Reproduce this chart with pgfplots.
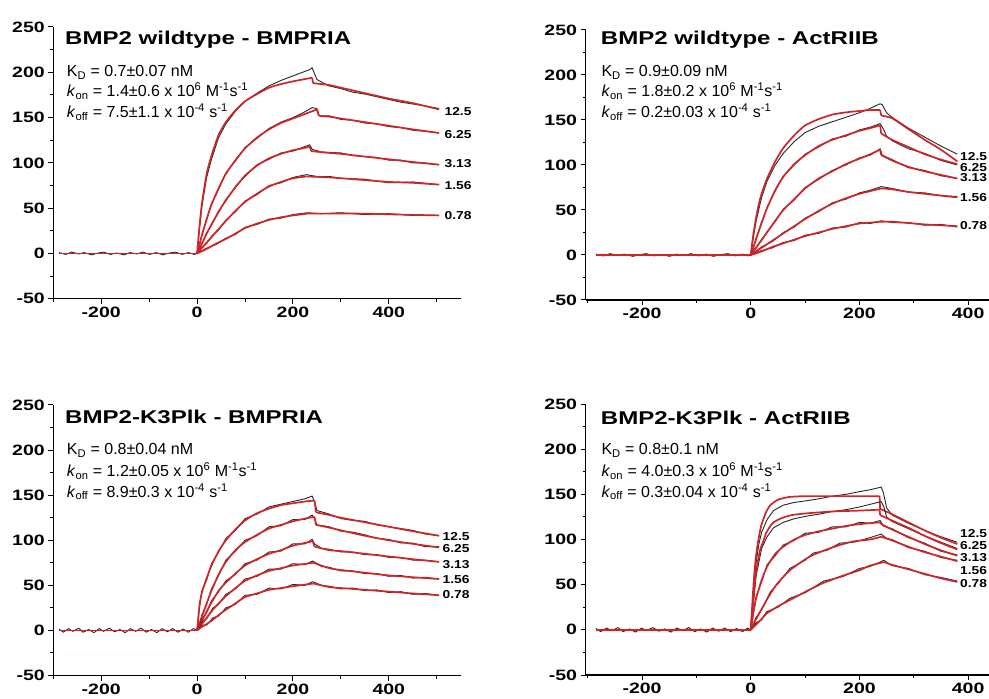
\documentclass[border=0pt]{standalone}
\usepackage{fontspec}
\setmainfont{Liberation Sans}
\newfontfamily\stretchfont{Liberation Sans}[FakeStretch=1.3]
\newfontfamily\concfamily{Liberation Sans}[FakeStretch=1.2]
\usepackage{pgfplots}
\pgfplotsset{compat=1.18}
\definecolor{fitred}{RGB}{208,36,40}
\newcommand\tickfont{\stretchfont\bfseries\fontsize{15bp}{17bp}\selectfont}
\newcommand\titlefont{\stretchfont\bfseries\fontsize{18.5bp}{21bp}\selectfont}
\newcommand\annfont{\fontsize{16bp}{18bp}\selectfont}
\newcommand\concfont{\concfamily\bfseries\fontsize{11.5bp}{12bp}\selectfont}
\pgfplotsset{
  panel/.style={scale only axis, axis x line=bottom, axis y line=left,
    axis line style={line width=1.2pt,-},
    ymin=-50, ymax=250, ytick={-50,0,...,250}, minor ytick={-25,25,75,125,175,225},
    xtick={-200,0,200,400}, minor xtick={-300,-100,100,300,500},
    tick align=outside, major tick length=5bp, minor tick length=3bp,
    every tick/.style={line width=1pt, black},
    tick label style={font=\tickfont},
    /pgf/number format/assume math mode=true,
    clip=false},
  fit/.style={fitred, line width=1.7pt, mark=none, smooth, tension=0.35},
  fitl/.style={fitred, line width=1.7pt, mark=none},
  dat/.style={black!85, line width=0.9pt, mark=none},
}
\begin{document}
\begin{tikzpicture}
\path[use as bounding box] (0bp,0bp) rectangle (989bp,699bp);
% ---------------- top left
\begin{axis}[panel, at={(53.3bp,400.2bp)}, anchor=south west, width=407.4bp, height=271.8bp, xmin=-300, xmax=550]
\addplot[dat] coordinates {(-288,1) (-274,-1) (-262,1.5) (-247,-0.5) (-236,1) (-220,-1.5) (-207,0.5) (-195,1.5) (-181,-1) (-168,0.5) (-152,-1.5) (-140,1) (-126,-0.5) (-113,1.5) (-99,-1) (-85,1) (-72,-1.5) (-58,0.5) (-45,1.5) (-31,-1) (-18,1) (-6,-1) (0,0)};
\addplot[fitl] coordinates {(-288,0) (0,0)};
% 12.5
\addplot[dat] coordinates {(0,0) (5,27) (10,52) (20,84) (30,104) (45,128) (60,143) (80,157) (100,168) (125,177) (150,185) (175,191) (200,196) (220,200) (235,203) (240,205) (244,200) (250,192) (275,185) (300,182) (325,178) (350,176) (375,173) (400,170) (425,167) (450,165) (475,163) (505,160)};
\addplot[fit] coordinates {(0,0) (5,30) (10,55) (20,88) (30,108) (45,131) (60,145) (80,158) (100,168) (125,176) (150,183) (175,187) (200,190) (220,192) (240,194)};
\addplot[fitl] coordinates {(240,194) (242,188)};
\addplot[fit] coordinates {(242,188) (275,186) (300,183) (350,177) (400,171) (450,166) (505,159)};
% 6.25
\addplot[dat] coordinates {(0,0) (5,9) (10,21) (20,37) (30,55) (45,71) (60,89) (80,102) (100,117) (125,127) (150,138) (175,145) (200,150) (220,155) (240,161) (250,160) (255,152) (276,152) (300,148) (325,147) (350,144) (375,143) (400,140) (425,139) (450,136) (475,135) (505,133)};
\addplot[fit] coordinates {(0,0) (5,10) (10,20) (20,38) (30,54) (45,72) (60,88) (80,103) (100,116) (125,128) (150,137) (175,144) (200,149) (220,153) (250,159)};
\addplot[fitl] coordinates {(250,159) (254,152)};
\addplot[fit] coordinates {(254,152) (276,151) (300,149) (350,145) (400,141) (450,137) (505,133)};
% 3.13
\addplot[dat] coordinates {(0,0) (10,10) (20,23) (30,31) (45,47) (60,58) (80,74) (100,85) (125,98) (150,104) (175,111) (200,113) (220,117) (235,120) (240,115) (260,112) (300,111) (325,108) (350,107) (375,106) (400,103) (425,103) (450,100) (475,100) (505,98)};
\addplot[fit] coordinates {(0,0) (10,11) (20,22) (30,32) (45,46) (60,59) (80,73) (100,86) (125,97) (150,105) (175,110) (200,114) (220,116) (235,118)};
\addplot[fitl] coordinates {(235,118) (238,113)};
\addplot[fit] coordinates {(238,113) (276,111) (300,110) (350,107) (400,104) (450,101) (505,98)};
% 1.56
\addplot[dat] coordinates {(0,0) (10,7) (20,11) (30,19) (45,26) (60,37) (80,46) (100,58) (125,65) (150,75) (175,78) (200,84) (228,87) (250,85) (276,85) (300,83) (350,82) (400,78) (450,79) (505,76)};
\addplot[fit] coordinates {(0,0) (10,6) (20,12) (30,18) (45,27) (60,36) (80,47) (100,57) (125,66) (150,74) (175,79) (200,83) (228,85)};
\addplot[fit] coordinates {(228,85) (276,84) (350,81) (400,79) (450,78) (505,76)};
% 0.78
\addplot[dat] coordinates {(0,0) (20,6) (40,10) (60,17) (80,21) (100,29) (125,32) (150,38) (175,39) (200,43) (230,45) (260,44) (300,45) (350,43) (400,44) (450,42) (505,42)};
\addplot[fit] coordinates {(0,0) (20,5) (40,11) (60,16) (80,22) (100,28) (125,33) (150,37) (175,40) (200,42) (230,44)};
\addplot[fit] coordinates {(230,44) (276,44) (350,44) (420,43) (505,42)};
\node[anchor=west, inner sep=0, font=\concfont] at (axis cs:516,157) {12.5};
\node[anchor=west, inner sep=0, font=\concfont] at (axis cs:516,131) {6.25};
\node[anchor=west, inner sep=0, font=\concfont] at (axis cs:516,99) {3.13};
\node[anchor=west, inner sep=0, font=\concfont] at (axis cs:516,75) {1.56};
\node[anchor=west, inner sep=0, font=\concfont] at (axis cs:516,42) {0.78};
\end{axis}
% ---------------- top right
\begin{axis}[panel, at={(585.5bp,399bp)}, anchor=south west, width=404.4bp, height=270bp, xmin=-304, xmax=440]
\addplot[dat] coordinates {(-285,1) (-271,-1) (-259,1.5) (-244,-0.5) (-233,1) (-217,-1.5) (-204,0.5) (-192,1.5) (-178,-1) (-165,0.5) (-149,-1.5) (-137,1) (-123,-0.5) (-110,1.5) (-96,-1) (-82,1) (-69,-1.5) (-55,0.5) (-42,1.5) (-28,-1) (-15,1) (-5,-1) (0,0)};
\addplot[fitl] coordinates {(-285,0) (0,0)};
% 12.5
\addplot[dat] coordinates {(0,0) (5,20) (10,38) (20,64) (30,82) (45,100) (60,113) (80,126) (100,136) (125,143) (150,148) (175,153) (200,158) (220,163) (238,168) (242,167) (250,158) (260,153) (290,141) (320,131) (350,121) (380,112)};
\addplot[fit] coordinates {(0,0) (5,24) (10,42) (15,57) (20,68) (30,85) (45,104) (60,119) (80,133) (100,144) (125,151) (150,156) (175,158.5) (200,160) (220,161) (238,161)};
\addplot[fitl] coordinates {(238,161) (240,155)};
\addplot[fit] coordinates {(240,155) (260,152) (290,140) (320,128) (350,117) (380,104)};
% 6.25
\addplot[dat] coordinates {(0,0) (5,8) (10,19) (20,35) (30,53) (45,71) (60,88) (80,100) (100,112) (125,120) (150,129) (175,132) (200,139) (220,142) (238,146) (244,140) (250,132) (260,127) (290,118) (320,113) (350,105) (380,100)};
\addplot[fit] coordinates {(0,0) (5,9) (10,18) (20,36) (30,52) (45,72) (60,87) (80,101) (100,111) (125,121) (150,128) (175,133) (200,138) (220,141) (238,144)};
\addplot[fitl] coordinates {(238,144) (240,135)};
\addplot[fit] coordinates {(240,135) (260,128) (290,120) (320,112) (350,106) (380,101)};
% 3.13
\addplot[dat] coordinates {(0,0) (10,9) (20,16) (30,26) (45,37) (60,51) (80,61) (100,75) (125,84) (150,94) (175,100) (200,108) (220,111) (238,118) (242,111) (260,106) (290,97) (320,94) (350,88) (380,85)};
\addplot[fit] coordinates {(0,0) (10,8) (20,17) (30,25) (45,38) (60,50) (80,62) (100,74) (125,85) (150,93) (175,101) (200,107) (220,112) (238,117)};
\addplot[fitl] coordinates {(238,117) (240,111)};
\addplot[fit] coordinates {(240,111) (260,105) (290,98) (320,93) (350,89) (380,85)};
% 1.56
\addplot[dat] coordinates {(0,0) (20,9) (40,15) (60,25) (80,31) (100,41) (125,48) (150,58) (175,62) (200,69) (220,72) (240,76) (260,74) (290,70) (320,69) (350,66) (380,65)};
\addplot[fit] coordinates {(0,0) (20,8) (40,16) (60,24) (80,32) (100,40) (125,49) (150,57) (175,63) (200,68) (220,71) (240,74)};
\addplot[fit] coordinates {(240,74) (260,73) (290,70) (320,68) (350,66) (380,64)};
% 0.78
\addplot[dat] coordinates {(0,0) (20,5) (40,8) (60,14) (80,16) (100,22) (125,24) (150,30) (175,31) (200,36) (220,35) (240,38) (260,36) (290,36) (320,33) (350,34) (380,31)};
\addplot[fit] coordinates {(0,0) (20,4) (40,9) (60,13) (80,17) (100,21) (125,25) (150,29) (175,32) (200,35) (220,36) (240,37)};
\addplot[fit] coordinates {(240,37) (260,37) (290,35.5) (320,34) (350,33) (380,32)};
\node[anchor=west, inner sep=0, font=\concfont] at (axis cs:385,109) {12.5};
\node[anchor=west, inner sep=0, font=\concfont] at (axis cs:385,97.5) {6.25};
\node[anchor=west, inner sep=0, font=\concfont] at (axis cs:385,86) {3.13};
\node[anchor=west, inner sep=0, font=\concfont] at (axis cs:385,64) {1.56};
\node[anchor=west, inner sep=0, font=\concfont] at (axis cs:385,32.5) {0.78};
\end{axis}
% ---------------- bottom left
\begin{axis}[panel, at={(53.3bp,23.5bp)}, anchor=south west, width=407.4bp, height=270.5bp, xmin=-300, xmax=550]
\addplot[dat] coordinates {(-288,1.5) (-279,-2) (-268,2) (-259,-1) (-247,2.5) (-238,-2) (-226,1) (-215,-2.5) (-204,2) (-195,-1) (-183,2.5) (-172,-1.5) (-161,1) (-150,-2.5) (-139,2) (-128,-1) (-117,2.5) (-106,-2) (-95,1) (-84,-2.5) (-73,2) (-62,-1.5) (-51,2) (-40,-2) (-29,1.5) (-18,-2) (-8,2) (0,0)};
\addplot[fitl] coordinates {(-288,0) (0,0)};
% 12.5
\addplot[dat] coordinates {(0,0) (5,25) (10,44) (20,56) (30,74) (45,87) (60,102) (80,111) (100,124) (125,129) (150,137) (175,140) (200,143) (225,146) (240,149) (246,141) (250,133) (276,129) (300,124) (325,122) (350,121) (375,117) (400,115) (425,113) (450,111) (475,107) (505,105)};
\addplot[fit] coordinates {(0,0) (5,28) (10,42) (20,58) (30,72) (45,88) (60,100) (80,112) (100,122) (125,130) (150,135) (175,139) (200,141) (225,143) (245,144)};
\addplot[fitl] coordinates {(245,144) (248,131)};
\addplot[fit] coordinates {(248,131) (276,128) (300,125) (350,120) (400,115) (450,110) (505,105)};
% 6.25
\addplot[dat] coordinates {(0,0) (5,7) (10,17) (20,29) (30,46) (45,61) (60,78) (80,88) (100,100) (125,105) (150,115) (175,116) (200,123) (225,123) (240,128) (245,124) (250,117) (276,115) (300,110) (325,109) (350,106) (375,102) (400,101) (425,97) (450,97) (475,93) (505,93)};
\addplot[fit] coordinates {(0,0) (5,8) (10,15) (20,30) (30,44) (45,62) (60,76) (80,89) (100,98) (125,106) (150,113) (175,117) (200,121) (225,124) (245,126)};
\addplot[fitl] coordinates {(245,126) (248,117)};
\addplot[fit] coordinates {(248,117) (276,114) (300,111) (350,105) (400,100) (450,96) (505,92)};
% 3.13
\addplot[dat] coordinates {(0,0) (10,12) (20,20) (30,33) (45,43) (60,55) (80,62) (100,74) (125,78) (150,87) (175,88) (200,96) (225,96) (240,101) (245,96) (260,91) (276,90) (300,87) (325,87) (350,84) (375,84) (400,81) (425,81) (450,78) (475,78) (505,76)};
\addplot[fit] coordinates {(0,0) (10,10) (20,21) (30,31) (45,44) (60,53) (80,63) (100,72) (125,79) (150,85) (175,89) (200,94) (225,97) (241,99)};
\addplot[fitl] coordinates {(241,99) (245,93)};
\addplot[fit] coordinates {(245,93) (276,89) (300,88) (350,85) (400,82) (450,79) (505,76)};
% 1.56
\addplot[dat] coordinates {(0,0) (10,9) (20,13) (33,25) (45,29) (60,40) (80,46) (100,57) (125,60) (150,68) (175,68) (200,74) (225,73) (241,77) (260,71) (276,70) (300,66) (325,66) (350,63) (375,63) (400,60) (425,61) (450,58) (475,59) (505,57)};
\addplot[fit] coordinates {(0,0) (10,7) (20,14) (33,23) (45,30) (60,38) (80,47) (100,55) (125,61) (150,66) (175,69) (200,72) (243,75)};
\addplot[fit] coordinates {(243,75) (276,69) (300,67) (350,64) (400,61) (450,59) (505,57)};
% 0.78
\addplot[dat] coordinates {(0,0) (10,6) (20,6) (33,14) (45,16) (60,25) (80,29) (100,39) (125,40) (150,47) (175,46) (200,51) (225,50) (241,54) (260,50) (276,49) (300,46) (325,47) (350,44) (375,45) (400,42) (425,43) (450,40) (475,41) (505,39)};
\addplot[fit] coordinates {(0,0) (10,4) (20,7) (33,12) (45,17) (60,23) (80,30) (100,37) (125,41) (150,45) (175,47) (200,49) (243,52)};
\addplot[fit] coordinates {(243,52) (276,48) (300,47) (350,45) (400,43) (450,41) (505,39)};
\node[anchor=west, inner sep=0, font=\concfont] at (axis cs:512,104) {12.5};
\node[anchor=west, inner sep=0, font=\concfont] at (axis cs:512,91) {6.25};
\node[anchor=west, inner sep=0, font=\concfont] at (axis cs:512,73) {3.13};
\node[anchor=west, inner sep=0, font=\concfont] at (axis cs:512,56) {1.56};
\node[anchor=west, inner sep=0, font=\concfont] at (axis cs:512,39.4) {0.78};
\end{axis}
% ---------------- bottom right
\begin{axis}[panel, at={(585.5bp,24bp)}, anchor=south west, width=404.4bp, height=271bp, xmin=-304, xmax=440]
\addplot[dat] coordinates {(-285,1.5) (-276,-2) (-265,2) (-256,-1) (-244,2.5) (-235,-2) (-223,1) (-212,-2.5) (-201,2) (-192,-1) (-180,2.5) (-169,-1.5) (-158,1) (-147,-2.5) (-136,2) (-125,-1) (-114,2.5) (-103,-2) (-92,1) (-81,-2.5) (-70,2) (-59,-1.5) (-48,2) (-37,-2) (-26,1.5) (-15,-2) (-6,2) (0,0)};
\addplot[fitl] coordinates {(-285,0) (0,0)};
% 12.5
\addplot[dat] coordinates {(0,0) (3,20) (5,40) (10,75) (15,95) (20,108) (30,122) (42,132) (60,138) (80,141) (104,143) (125,145) (150,148) (175,150) (200,153) (219,155) (240,158) (244,152) (250,135) (260,127) (290,118) (320,110) (350,103) (380,97)};
\addplot[fit] coordinates {(0,0) (2,20) (4,40) (6,58) (9,78) (12,92) (16,106) (20,117) (28,130) (36,138) (50,144) (70,147) (100,148) (170,148) (237,148)};
\addplot[fitl] coordinates {(237,148) (238,134)};
\addplot[fit] coordinates {(238,134) (260,128) (290,119) (320,110) (350,102) (380,95)};
% 6.25
\addplot[dat] coordinates {(0,0) (5,30) (10,60) (20,90) (30,103) (42,113) (60,119) (80,123) (104,126) (125,128) (150,131) (175,133) (200,136) (220,139) (240,142) (245,136) (250,125) (260,120) (290,112) (320,104) (350,97) (380,90)};
\addplot[fit] coordinates {(0,0) (5,35) (8,55) (12,72) (17,88) (23,98) (29,108) (40,118) (54,123) (75,127) (104,129) (150,131) (200,132) (237,133)};
\addplot[fitl] coordinates {(237,133) (238,127)};
\addplot[fit] coordinates {(238,127) (260,121) (290,113) (320,104) (350,96) (380,89)};
% 3.13
\addplot[dat] coordinates {(0,0) (5,18) (10,37) (20,53) (30,72) (45,82) (60,94) (80,99) (100,107) (125,108) (150,114) (175,114) (200,119) (220,118) (238,121) (244,115) (260,112) (290,102) (320,96) (350,87) (380,83)};
\addplot[fit] coordinates {(0,0) (5,20) (10,35) (20,55) (30,70) (45,84) (60,92) (80,100) (100,105) (125,109) (150,112) (175,115) (200,117) (238,119)};
\addplot[fitl] coordinates {(238,119) (240,117)};
\addplot[fit] coordinates {(240,117) (260,111) (290,103) (320,95) (350,88) (380,82)};
% 1.56
\addplot[dat] coordinates {(0,0) (10,14) (20,22) (36,42) (50,51) (72,68) (100,77) (115,85) (140,88) (164,96) (190,97) (219,102) (240,106) (250,101) (260,100) (290,91) (320,87) (350,80) (380,77)};
\addplot[fit] coordinates {(0,0) (10,12) (20,23) (36,40) (50,52) (72,66) (100,78) (115,83) (140,89) (164,94) (190,98) (219,100) (240,103)};
\addplot[fit] coordinates {(240,103) (260,99) (290,92) (320,86) (350,81) (380,76)};
% 0.78
\addplot[dat] coordinates {(0,0) (10,8) (20,11) (29,20) (50,25) (72,35) (100,41) (134,54) (170,59) (200,68) (219,70) (245,77) (260,71) (290,68) (320,61) (350,58) (380,54)};
\addplot[fit] coordinates {(0,0) (10,6) (20,12) (29,18) (50,26) (72,33) (100,42) (134,52) (170,60) (200,66) (219,71) (245,75)};
\addplot[fit] coordinates {(245,75) (260,72) (290,67) (320,62) (350,57) (380,53)};
\node[anchor=west, inner sep=0, font=\concfont] at (axis cs:385,107) {12.5};
\node[anchor=west, inner sep=0, font=\concfont] at (axis cs:385,93) {6.25};
\node[anchor=west, inner sep=0, font=\concfont] at (axis cs:385,79.5) {3.13};
\node[anchor=west, inner sep=0, font=\concfont] at (axis cs:385,65.5) {1.56};
\node[anchor=west, inner sep=0, font=\concfont] at (axis cs:385,51.5) {0.78};
\end{axis}
% ---------------- titles and annotations
\node[anchor=base west, inner sep=0, font=\titlefont] at (65bp,654bp) {BMP2 wildtype - BMPRIA};
\node[anchor=base west, inner sep=0, font=\annfont] at (66.7bp,622bp) {K\textsubscript{D} = 0.7±0.07 nM};
\node[anchor=base west, inner sep=0, font=\annfont] at (66.7bp,602bp) {\textit{k}\textsubscript{on} = 1.4±0.6 x 10\textsuperscript{6} M\textsuperscript{-1}s\textsuperscript{-1}};
\node[anchor=base west, inner sep=0, font=\annfont] at (66.7bp,581bp) {\textit{k}\textsubscript{off} = 7.5±1.1 x 10\textsuperscript{-4} s\textsuperscript{-1}};
\node[anchor=base west, inner sep=0, font=\titlefont] at (600.7bp,654bp) {BMP2 wildtype - ActRIIB};
\node[anchor=base west, inner sep=0, font=\annfont] at (601.3bp,622bp) {K\textsubscript{D} = 0.9±0.09 nM};
\node[anchor=base west, inner sep=0, font=\annfont] at (601.3bp,602bp) {\textit{k}\textsubscript{on} = 1.8±0.2 x 10\textsuperscript{6} M\textsuperscript{-1}s\textsuperscript{-1}};
\node[anchor=base west, inner sep=0, font=\annfont] at (601.3bp,581bp) {\textit{k}\textsubscript{off} = 0.2±0.03 x 10\textsuperscript{-4} s\textsuperscript{-1}};
\node[anchor=base west, inner sep=0, font=\titlefont] at (65bp,275.7bp) {BMP2-K3Plk - BMPRIA};
\node[anchor=base west, inner sep=0, font=\annfont] at (66.7bp,244bp) {K\textsubscript{D} = 0.8±0.04 nM};
\node[anchor=base west, inner sep=0, font=\annfont] at (66.7bp,222.3bp) {\textit{k}\textsubscript{on} = 1.2±0.05 x 10\textsuperscript{6} M\textsuperscript{-1}s\textsuperscript{-1}};
\node[anchor=base west, inner sep=0, font=\annfont] at (66.7bp,201.7bp) {\textit{k}\textsubscript{off} = 8.9±0.3 x 10\textsuperscript{-4} s\textsuperscript{-1}};
\node[anchor=base west, inner sep=0, font=\titlefont] at (600.7bp,274bp) {BMP2-K3Plk - ActRIIB};
\node[anchor=base west, inner sep=0, font=\annfont] at (601.3bp,244bp) {K\textsubscript{D} = 0.8±0.1 nM};
\node[anchor=base west, inner sep=0, font=\annfont] at (601.3bp,222.3bp) {\textit{k}\textsubscript{on} = 4.0±0.3 x 10\textsuperscript{6} M\textsuperscript{-1}s\textsuperscript{-1}};
\node[anchor=base west, inner sep=0, font=\annfont] at (601.3bp,201.7bp) {\textit{k}\textsubscript{off} = 0.3±0.04 x 10\textsuperscript{-4} s\textsuperscript{-1}};
\end{tikzpicture}
\end{document}
